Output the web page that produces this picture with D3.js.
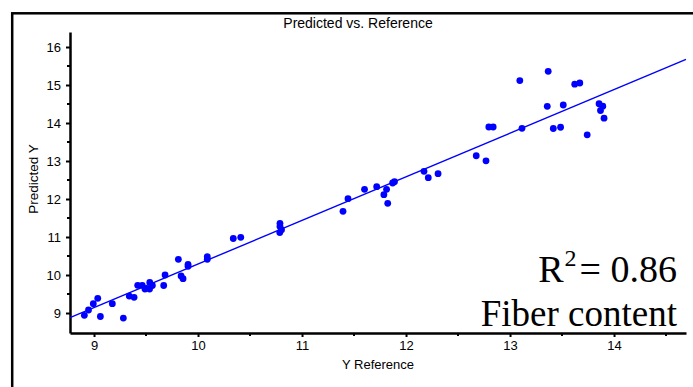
<!DOCTYPE html>
<html>
<head>
<meta charset="utf-8">
<script src="https://cdn.jsdelivr.net/npm/d3@7"></script>
<style>
  html, body { margin: 0; padding: 0; background: #fff; }
  svg { display: block; }
</style>
</head>
<body>
<svg id="chart" width="693" height="387"></svg>
<script>
// ---- data ----
const refX = [8.907, 8.947, 8.993, 9.036, 9.061, 9.176, 9.282, 9.339, 9.385, 9.420,
              9.464, 9.490, 9.536, 9.534, 9.561, 9.670, 9.683, 9.811, 9.837, 9.856,
              9.904, 9.904, 10.089, 10.089, 10.339, 10.411, 10.788, 10.788, 10.803, 10.786,
              11.394, 11.442, 11.601, 11.718, 11.787, 11.813, 11.824, 11.871, 11.889, 12.173,
              12.214, 12.308, 12.675, 12.769, 12.796, 12.838, 13.115, 13.094, 13.367, 13.358,
              13.416, 13.486, 13.512, 13.622, 13.671, 13.742, 13.856, 13.892, 13.870, 13.904];
const predY = [8.939, 9.079, 9.245, 9.387, 8.908, 9.245, 8.868, 9.447, 9.413, 9.729,
               9.729, 9.632, 9.803, 9.632, 9.724, 9.724, 10.000, 10.413, 9.974, 9.903,
               10.282, 10.229, 10.482, 10.413, 10.961, 10.992, 11.361, 11.276, 11.189, 11.118,
               11.676, 12.008, 12.255, 12.324, 12.113, 12.255, 11.887, 12.421, 12.455, 12.729,
               12.561, 12.666, 13.139, 13.005, 13.895, 13.895, 13.861, 15.118, 15.361, 14.439,
               13.855, 13.889, 14.474, 15.021, 15.053, 13.689, 14.508, 14.442, 14.329, 14.126];
const fitX = [8.769, 14.692];
const fitY = [8.876, 15.676];
const xTicks = [9, 10, 11, 12, 13, 14];
const yTicks = [9, 10, 11, 12, 13, 14, 15, 16];
const xMinor = [9.5, 10.5, 11.5, 12.5, 13.5, 14.5];
const yMinor = [9.5, 10.5, 11.5, 12.5, 13.5, 14.5, 15.5];
const xDomain = [8.769, 14.692];
const yDomain = [8.474, 16.395];
const titleText = "Predicted vs. Reference";
const xTitle = "Y Reference";
const yTitle = "Predicted Y";
const r2Value = "0.86";
const propertyName = "Fiber content";

// ---- layout ----
const svg = d3.select("#chart");
const mLeft = 70, mRight = 686, mTop = 32, mBottom = 333;
const x = d3.scaleLinear().domain(xDomain).range([mLeft, mRight]);
const y = d3.scaleLinear().domain(yDomain).range([mBottom, mTop]);

// frame (cropped at right/bottom)
svg.append("rect")
  .attr("x", 12.2).attr("y", 13.3)
  .attr("width", 720).attr("height", 420)
  .attr("fill", "none").attr("stroke", "#000").attr("stroke-width", 2.5);

const font = "Liberation Sans, Arial, sans-serif";

// title
svg.append("text")
  .attr("x", 358).attr("y", 28)
  .attr("text-anchor", "middle")
  .attr("font-family", font)
  .attr("font-size", 14)
  .text(titleText);

// axes
const xAxis = svg.append("g").attr("transform", `translate(0,${mBottom})`)
  .call(d3.axisBottom(x).tickValues(xTicks).tickFormat(d3.format("d")).tickSize(4).tickSizeOuter(0).tickPadding(4));
xAxis.append("g").selectAll("line").data(xMinor).join("line")
  .attr("x1", d => x(d)).attr("x2", d => x(d)).attr("y1", 0).attr("y2", 3)
  .attr("stroke", "#000").attr("stroke-width", 2);

const yAxis = svg.append("g").attr("transform", `translate(${mLeft},0)`)
  .call(d3.axisLeft(y).tickValues(yTicks).tickFormat(d3.format("d")).tickSize(4).tickSizeOuter(0).tickPadding(5));
yAxis.append("g").selectAll("line").data(yMinor).join("line")
  .attr("y1", d => y(d)).attr("y2", d => y(d)).attr("x1", 0).attr("x2", -3)
  .attr("stroke", "#000").attr("stroke-width", 2);

[xAxis, yAxis].forEach(g => {
  g.select(".domain").attr("stroke", "#000").attr("stroke-width", 2.5);
  g.selectAll(".tick line").attr("stroke", "#000").attr("stroke-width", 2);
  g.selectAll(".tick text").attr("font-family", font).attr("font-size", 13).attr("fill", "#000");
});

// axis titles
svg.append("text")
  .attr("x", 378).attr("y", 369)
  .attr("text-anchor", "middle")
  .attr("font-family", font).attr("font-size", 13)
  .text(xTitle);
svg.append("text")
  .attr("transform", "translate(38,179) rotate(-90)")
  .attr("text-anchor", "middle")
  .attr("font-family", font).attr("font-size", 13.5)
  .text(yTitle);

// fit line
svg.append("line")
  .attr("x1", x(fitX[0])).attr("y1", y(fitY[0]))
  .attr("x2", x(fitX[1])).attr("y2", y(fitY[1]))
  .attr("stroke", "#0000ff").attr("stroke-width", 1.4);

// points
svg.append("g").selectAll("circle").data(refX).join("circle")
  .attr("cx", d => x(d))
  .attr("cy", (d, i) => y(predY[i]))
  .attr("r", 3.4)
  .attr("fill", "#0000ff");

// annotation
const serif = "Liberation Serif, Times New Roman, serif";
const r2 = svg.append("text")
  .attr("x", 677).attr("y", 282)
  .attr("text-anchor", "end")
  .attr("font-family", serif).attr("font-size", 38).attr("fill", "#000");
r2.append("tspan").text("R");
r2.append("tspan").attr("font-size", 24).attr("dx", 1).attr("dy", -16).text("2");
r2.append("tspan").attr("dx", 3).attr("dy", 16).text("= " + r2Value);

svg.append("text")
  .attr("x", 677).attr("y", 326)
  .attr("text-anchor", "end")
  .attr("font-family", serif).attr("font-size", 37).attr("fill", "#000")
  .text(propertyName);
</script>
</body>
</html>
